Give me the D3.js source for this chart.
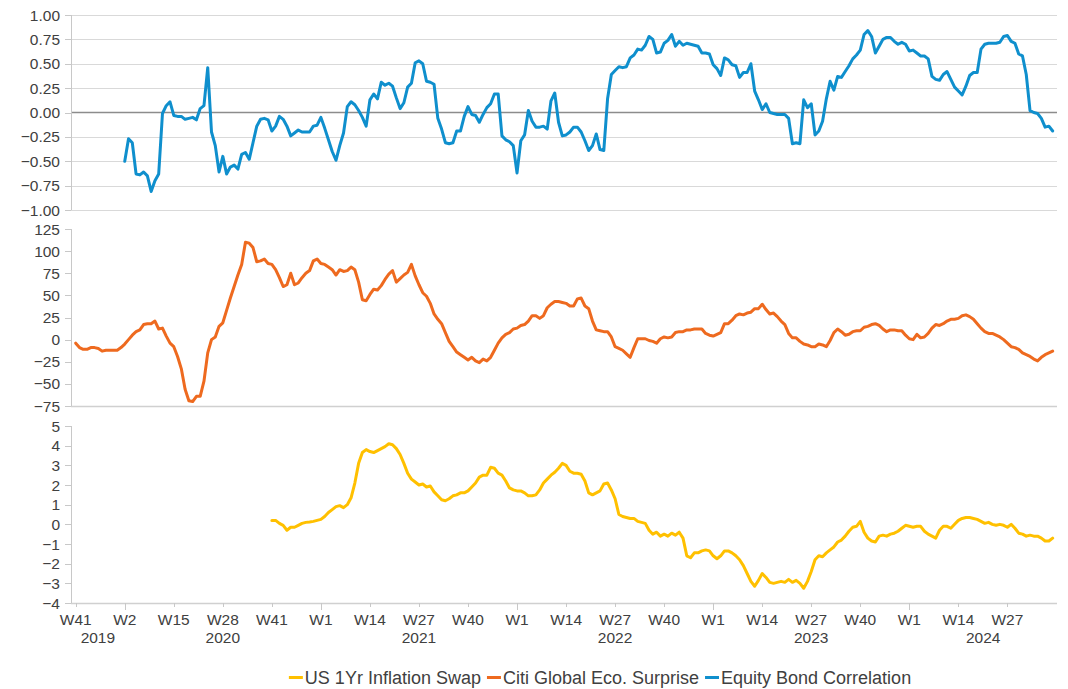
<!DOCTYPE html>
<html>
<head>
<meta charset="utf-8">
<script src="https://cdn.jsdelivr.net/npm/d3@7"></script>
<style>
  body { margin: 0; background: #fff; }
  svg { display: block; font-family: "Liberation Sans", Arial, sans-serif; }
</style>
</head>
<body>
<div id="chart"></div>
<script>
// weekly observations, index 0 = 2019 W41 ... index 259 = 2024 W39
const weekCount = 260;

// Equity Bond Correlation, starts at index 13 (2020 W2)
const equityStart = 13;
const equityBond = [
  -0.50, -0.27, -0.31, -0.63, -0.64, -0.61, -0.65, -0.81, -0.70, -0.63,
  -0.01, 0.07, 0.11, -0.03, -0.04, -0.04, -0.07, -0.06, -0.05, -0.075,
  0.04, 0.07, 0.46, -0.20, -0.34, -0.61, -0.45, -0.63, -0.56, -0.54,
  -0.58, -0.43, -0.41, -0.48, -0.31, -0.14, -0.07, -0.06, -0.075, -0.19,
  -0.14, -0.04, -0.07, -0.14, -0.24, -0.21, -0.18, -0.20, -0.20, -0.20,
  -0.14, -0.13, -0.05, -0.16, -0.28, -0.40, -0.49, -0.34, -0.21, 0.06,
  0.11, 0.08, 0.02, -0.05, -0.14, 0.13, 0.19, 0.14, 0.31, 0.28,
  0.30, 0.27, 0.15, 0.04, 0.10, 0.26, 0.30, 0.51, 0.53, 0.50,
  0.32, 0.31, 0.29, -0.06, -0.17, -0.31, -0.32, -0.31, -0.19, -0.19,
  -0.04, 0.06, -0.02, -0.03, -0.10, -0.02, 0.05, 0.09, 0.19, 0.19,
  -0.24, -0.28, -0.30, -0.34, -0.62, -0.29, -0.23, 0.02, -0.09, -0.15,
  -0.15, -0.14, -0.17, 0.12, 0.20, -0.10, -0.24, -0.23, -0.20, -0.15,
  -0.15, -0.20, -0.29, -0.39, -0.34, -0.22, -0.38, -0.39, 0.14, 0.39,
  0.43, 0.47, 0.46, 0.47, 0.56, 0.59, 0.65, 0.64, 0.69, 0.78,
  0.75, 0.61, 0.62, 0.71, 0.74, 0.80, 0.68, 0.73, 0.69, 0.71,
  0.70, 0.69, 0.68, 0.61, 0.61, 0.60, 0.49, 0.45, 0.38, 0.56,
  0.54, 0.49, 0.48, 0.36, 0.41, 0.41, 0.50, 0.22, 0.13, 0.03,
  0.09, 0.00, -0.01, -0.02, -0.02, -0.02, -0.06, -0.32, -0.31, -0.32,
  0.13, 0.05, 0.09, -0.23, -0.19, -0.09, 0.14, 0.32, 0.23, 0.37,
  0.36, 0.42, 0.48, 0.55, 0.59, 0.64, 0.80, 0.84, 0.78, 0.61,
  0.68, 0.75, 0.77, 0.77, 0.73, 0.70, 0.72, 0.70, 0.63, 0.64,
  0.61, 0.58, 0.58, 0.55, 0.37, 0.34, 0.33, 0.39, 0.42, 0.34,
  0.26, 0.22, 0.18, 0.27, 0.38, 0.41, 0.41, 0.65, 0.70, 0.71,
  0.71, 0.71, 0.72, 0.78, 0.79, 0.73, 0.71, 0.60, 0.58, 0.39,
  0.02, 0.00, -0.01, -0.06, -0.15, -0.14, -0.19
];

// Citi Global Eco. Surprise, starts at index 0
const citiSurprise = [
  -4, -9, -11, -11, -9, -9, -10, -13, -12, -12,
  -12, -12, -9, -5, 0, 5, 9, 11, 17, 18,
  18, 21, 12, 13, 4, -4, -8, -19, -33, -56,
  -69, -70, -64, -64, -47, -15, 0, 3, 15, 19,
  33, 47, 60, 73, 85, 110, 109, 104, 88, 89,
  91, 86, 85, 79, 70, 60, 62, 75, 62, 64,
  70, 75, 78, 89, 91, 86, 85, 82, 79, 73,
  79, 77, 78, 82, 79, 65, 45, 44, 51, 57,
  56, 61, 68, 74, 78, 65, 69, 73, 76, 85,
  72, 62, 53, 49, 41, 29, 23, 18, 8, -2,
  -8, -14, -17, -20, -23, -20, -24, -26, -22, -24,
  -20, -12, -4, 2, 6, 8, 12, 13, 16, 17,
  21, 27, 27, 24, 27, 36, 40, 43, 43, 42,
  41, 38, 38, 46, 47, 38, 35, 21, 11, 10,
  9, 9, 3, -8, -10, -12, -16, -20, -9, 1,
  1, 1, -1, -2, -4, 1, 3, 2, 3, 8,
  9, 9, 11, 11, 12, 12, 12, 7, 5, 4,
  6, 8, 18, 18, 22, 27, 29, 28, 30, 31,
  35, 35, 40, 34, 29, 30, 26, 21, 17, 7,
  2, 2, -2, -5, -6, -8, -8, -5, -6, -8,
  -1, 8, 12, 9, 5, 6, 9, 10, 10, 14,
  15, 17, 18, 16, 12, 9, 11, 11, 10, 10,
  5, 1, 0, 6, 2, 3, 7, 13, 17, 16,
  18, 21, 23, 23, 24, 27, 28, 26, 23, 18,
  13, 9, 7, 7, 5, 3, 0, -4, -8, -9,
  -11, -15, -17, -19, -22, -24, -20, -17, -15, -13
];

// US 1Yr Inflation Swap, starts at index 52 (2020 W41)
const inflationStart = 52;
const inflationSwap = [
  0.2, 0.2, 0.05, -0.05, -0.3, -0.15, -0.15, -0.05, 0.05, 0.1,
  0.12, 0.15, 0.2, 0.25, 0.4, 0.6, 0.75, 0.9, 0.95, 0.85,
  1.0, 1.35, 2.1, 3.1, 3.65, 3.8, 3.7, 3.65, 3.75, 3.85,
  3.95, 4.1, 4.05, 3.85, 3.55, 3.1, 2.6, 2.3, 2.15, 2.0,
  2.05, 1.9, 1.95, 1.65, 1.45, 1.25, 1.2, 1.3, 1.45, 1.5,
  1.6, 1.6, 1.7, 1.9, 2.1, 2.4, 2.5, 2.5, 2.9, 2.85,
  2.6, 2.5, 2.2, 1.85, 1.75, 1.7, 1.7, 1.6, 1.45, 1.45,
  1.5, 1.75, 2.1, 2.3, 2.5, 2.65, 2.85, 3.1, 3.0, 2.7,
  2.6, 2.6, 2.55, 2.2, 1.6, 1.5, 1.6, 1.7, 2.05, 2.1,
  1.75, 1.3, 0.5, 0.4, 0.35, 0.3, 0.3, 0.15, 0.1, 0.05,
  -0.3, -0.5, -0.4, -0.6, -0.5, -0.6, -0.45, -0.55, -0.4, -0.7,
  -1.6, -1.7, -1.45, -1.45, -1.35, -1.3, -1.35, -1.6, -1.75, -1.6,
  -1.35, -1.35, -1.45, -1.6, -1.8, -2.1, -2.5, -2.9, -3.15, -2.85,
  -2.5, -2.7, -2.95, -3.0, -2.95, -2.9, -2.95, -2.8, -2.95, -2.85,
  -3.0, -3.25, -2.9, -2.4, -1.8, -1.6, -1.65, -1.45, -1.3, -1.15,
  -0.9, -0.8, -0.6, -0.35, -0.15, -0.1, 0.15, -0.4, -0.7, -0.85,
  -0.9, -0.6, -0.55, -0.6, -0.5, -0.45, -0.35, -0.2, -0.05, -0.1,
  -0.15, -0.1, -0.1, -0.35, -0.5, -0.6, -0.7, -0.3, -0.1, -0.1,
  -0.2, 0.0, 0.2, 0.3, 0.35, 0.35, 0.3, 0.25, 0.15, 0.05,
  0.1, 0.0, -0.05, 0.0, -0.05, -0.15, 0.0, -0.2, -0.45, -0.5,
  -0.6, -0.55, -0.6, -0.6, -0.7, -0.85, -0.85, -0.7
];

// x axis labels: one week label every 13 weeks, years under them
const weekTickLabels = ["W41", "W2", "W15", "W28", "W41", "W1", "W14", "W27", "W40", "W1",
  "W14", "W27", "W40", "W1", "W14", "W27", "W40", "W1", "W14", "W27"];
const years = ["2019", "2020", "2021", "2022", "2023", "2024"];
const yearStart = [0, 13, 65, 117, 169, 221];

const topTicks = [1, 0.75, 0.5, 0.25, 0, -0.25, -0.5, -0.75, -1];
const midTicks = [125, 100, 75, 50, 25, 0, -25, -50, -75];
const botTicks = [5, 4, 3, 2, 1, 0, -1, -2, -3, -4];

const seriesNames = ["US 1Yr Inflation Swap", "Citi Global Eco. Surprise", "Equity Bond Correlation"];
const colors = ["#ffc000", "#ee6a1f", "#0f8fcd"];

const width = 1068, height = 689;
const left = 71, right = 1057;

const svg = d3.select("#chart").append("svg")
  .attr("width", width)
  .attr("height", height);

const x = d3.scaleLinear().domain([-1.25, weekCount + 0.15]).range([left, right]);

const panels = [
  { y: d3.scaleLinear().domain([-1, 1]).range([210, 15]), ticks: topTicks, fmt: d3.format(".2f"), grid: true,
    data: equityBond, start: equityStart, color: colors[2] },
  { y: d3.scaleLinear().domain([-75, 125]).range([406, 229]), ticks: midTicks, fmt: d3.format("d"), grid: false,
    data: citiSurprise, start: 0, color: colors[1] },
  { y: d3.scaleLinear().domain([-4, 5]).range([603, 426]), ticks: botTicks, fmt: d3.format("d"), grid: false,
    data: inflationSwap, start: inflationStart, color: colors[0] }
];

panels.forEach(p => {
  const g = svg.append("g");
  const [y0, y1] = p.y.range();

  if (p.grid) {
    g.selectAll("line.grid")
      .data(p.ticks.filter(t => t !== 0))
      .enter().append("line")
      .attr("x1", left).attr("x2", right)
      .attr("y1", d => Math.round(p.y(d)) + 0.5)
      .attr("y2", d => Math.round(p.y(d)) + 0.5)
      .attr("stroke", "#d9d9d9");
    g.append("line")
      .attr("x1", left).attr("x2", right)
      .attr("y1", p.y(0)).attr("y2", p.y(0))
      .attr("stroke", "#8c8c8c").attr("stroke-width", 1.3);
  } else {
    g.append("line")
      .attr("x1", left).attr("x2", right)
      .attr("y1", Math.round(y0) + 0.5).attr("y2", Math.round(y0) + 0.5)
      .attr("stroke", "#d0d0d0").attr("stroke-width", 1.5);
  }

  // vertical axis
  g.append("line")
    .attr("x1", left + 0.5).attr("x2", left + 0.5)
    .attr("y1", y1).attr("y2", y0)
    .attr("stroke", "#c8c8c8");
  g.selectAll("line.tick")
    .data(p.ticks)
    .enter().append("line")
    .attr("x1", left - 6).attr("x2", left)
    .attr("y1", d => Math.round(p.y(d)) + 0.5)
    .attr("y2", d => Math.round(p.y(d)) + 0.5)
    .attr("stroke", "#c8c8c8");
  g.selectAll("text")
    .data(p.ticks)
    .enter().append("text")
    .attr("x", 60)
    .attr("y", d => p.y(d))
    .attr("dy", "0.36em")
    .attr("text-anchor", "end")
    .attr("fill", "#404040")
    .style("font-size", "15.5px")
    .text(d => p.fmt(d));

  const line = d3.line()
    .x((d, i) => x(p.start + i))
    .y(d => p.y(d));

  g.append("path")
    .datum(p.data)
    .attr("d", line)
    .attr("fill", "none")
    .attr("stroke", p.color)
    .attr("stroke-width", 3)
    .attr("stroke-linejoin", "round")
    .attr("stroke-linecap", "round");
});

// x axis ticks and labels under the bottom panel
const axisY = 603;
const xg = svg.append("g");
xg.selectAll("line.wk")
  .data(weekTickLabels)
  .enter().append("line")
  .attr("x1", (d, i) => Math.round(x(i * 13)) + 0.5)
  .attr("x2", (d, i) => Math.round(x(i * 13)) + 0.5)
  .attr("y1", axisY).attr("y2", axisY + 4)
  .attr("stroke", "#c8c8c8");
xg.selectAll("line.yr")
  .data(yearStart.slice(1))
  .enter().append("line")
  .attr("x1", d => Math.round(x(d)) + 0.5)
  .attr("x2", d => Math.round(x(d)) + 0.5)
  .attr("y1", axisY).attr("y2", axisY + 7)
  .attr("stroke", "#c8c8c8");
xg.selectAll("text.wk")
  .data(weekTickLabels)
  .enter().append("text")
  .attr("x", (d, i) => x(i * 13))
  .attr("y", 625)
  .attr("text-anchor", "middle")
  .attr("fill", "#404040")
  .style("font-size", "15.5px")
  .text(d => d);
xg.selectAll("text.yr")
  .data(years)
  .enter().append("text")
  .attr("x", (d, i) => {
    const a = i === 0 ? left : x(yearStart[i]);
    const b = i === years.length - 1 ? right : x(yearStart[i + 1]);
    return (a + b) / 2;
  })
  .attr("y", 643)
  .attr("text-anchor", "middle")
  .attr("fill", "#404040")
  .style("font-size", "15.5px")
  .text(d => d);

// legend
const legend = svg.append("g");
let cx = 0;
seriesNames.forEach((name, i) => {
  const item = legend.append("g").attr("transform", `translate(${cx},0)`);
  item.append("line")
    .attr("x1", 0).attr("x2", 14)
    .attr("y1", -6.5).attr("y2", -6.5)
    .attr("stroke", colors[i]).attr("stroke-width", 3);
  const t = item.append("text")
    .attr("x", 16).attr("y", 0)
    .attr("fill", "#404040")
    .style("font-size", "18px")
    .text(name);
  cx += 16 + t.node().getComputedTextLength() + 6;
});
const legendWidth = cx - 6;
legend.attr("transform", `translate(${600 - legendWidth / 2},684)`);
</script>
</body>
</html>
